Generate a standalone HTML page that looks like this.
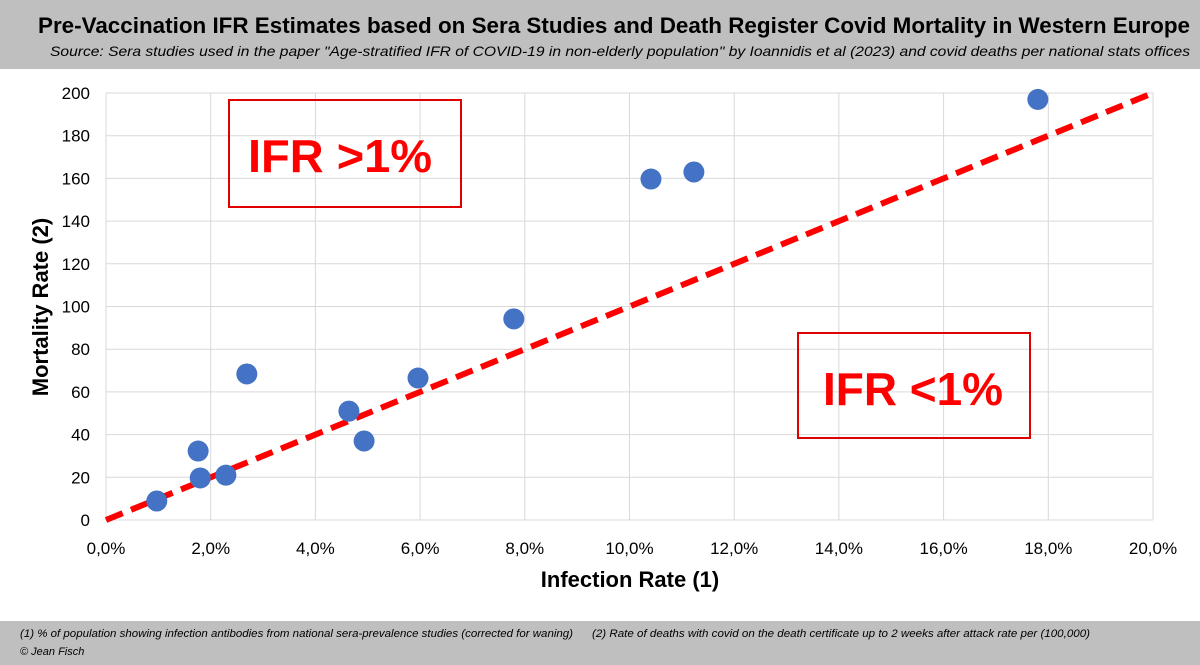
<!DOCTYPE html>
<html><head><meta charset="utf-8"><style>
body{margin:0;width:1200px;height:665px;background:#fff;font-family:"Liberation Sans",sans-serif;overflow:hidden;position:relative}
.band{position:absolute;left:0;width:1200px;background:#bfbfbf}
</style></head><body>
<div class="band" style="top:0;height:69px"></div>
<div class="band" style="top:621px;height:44px"></div>
<svg width="1200" height="665" style="position:absolute;left:0;top:0" font-family="Liberation Sans, sans-serif">
<text x="614" y="33" text-anchor="middle" font-size="22" font-weight="bold" fill="#000" textLength="1152" lengthAdjust="spacingAndGlyphs">Pre-Vaccination IFR Estimates based on Sera Studies and Death Register Covid Mortality in Western Europe</text>
<text x="620" y="56" text-anchor="middle" font-size="14" font-style="italic" fill="#000" textLength="1140" lengthAdjust="spacingAndGlyphs">Source: Sera studies used in the paper "Age-stratified IFR of COVID-19 in non-elderly population" by Ioannidis et al (2023) and covid deaths per national stats offices</text>
<g id="grid"></g>
<g id="ticks"></g>
<rect x="229" y="100" width="232" height="107" fill="none" stroke="#e00000" stroke-width="2"/>
<text x="340" y="172" text-anchor="middle" font-size="46" font-weight="bold" fill="#ff0000" textLength="184" lengthAdjust="spacingAndGlyphs">IFR &gt;1%</text>
<rect x="798" y="333" width="232" height="105" fill="none" stroke="#e00000" stroke-width="2"/>
<text x="913" y="405" text-anchor="middle" font-size="46" font-weight="bold" fill="#ff0000" textLength="180" lengthAdjust="spacingAndGlyphs">IFR &lt;1%</text>
<g id="marks"></g>
<text x="630" y="587" text-anchor="middle" font-size="22" font-weight="bold">Infection Rate (1)</text>
<text transform="translate(48,307) rotate(-90)" text-anchor="middle" font-size="22" font-weight="bold">Mortality Rate (2)</text>
<text x="20" y="637" font-size="11" font-style="italic" textLength="553" lengthAdjust="spacingAndGlyphs">(1) % of population showing infection antibodies from national sera-prevalence studies (corrected for waning)</text>
<text x="592" y="637" font-size="11" font-style="italic" textLength="498" lengthAdjust="spacingAndGlyphs">(2) Rate of deaths with covid on the death certificate up to 2 weeks after attack rate per (100,000)</text>
<text x="20" y="655" font-size="11" font-style="italic">© Jean Fisch</text>
</svg>
<script>
const xTicks=[0,2,4,6,8,10,12,14,16,18,20];
const yTicks=[0,20,40,60,80,100,120,140,160,180,200];
const infection=[0.97,1.76,1.8,2.29,2.69,4.64,4.93,5.96,7.79,10.41,11.23,17.8];
const mortality=[8.9,32.3,19.7,21,68.4,51,37,66.5,94.2,159.7,163,197];
const ifrLine=[[0,0],[20,200]];
const NS='http://www.w3.org/2000/svg';
const X=v=>106+v*52.35, Y=v=>520-v*2.135;
function mk(t,a,p){const e=document.createElementNS(NS,t);for(const k in a)e.setAttribute(k,a[k]);document.getElementById(p).appendChild(e);return e;}
xTicks.forEach(t=>{
 const g=mk('line',{x1:X(t),x2:X(t),y1:Y(0),y2:Y(200),stroke:'#d9d9d9','stroke-width':1},'grid');
 
 
 const l=mk('text',{x:X(t),y:554,'text-anchor':'middle','font-size':17},'ticks');
 l.textContent=t.toFixed(1).replace('.',',')+'%';
 
 
});
yTicks.forEach(t=>{
 const g=mk('line',{x1:X(0),x2:X(20),y1:Y(t),y2:Y(t),stroke:'#d9d9d9','stroke-width':1},'grid');
 
 
 const l=mk('text',{x:90,y:Y(t)+6,'text-anchor':'end','font-size':17},'ticks');
 l.textContent=t;
 
 
});
const ln=mk('line',{x1:X(ifrLine[0][0]),y1:Y(ifrLine[0][1]),x2:X(ifrLine[1][0]),y2:Y(ifrLine[1][1]),stroke:'#ff0000','stroke-width':6,'stroke-dasharray':'18 9'},'marks');


infection.forEach((v,i)=>{
 const c=mk('circle',{cx:X(v),cy:Y(mortality[i]),r:10.5,fill:'#4472c4'},'marks');
 
 
});
</script>
</body></html>
